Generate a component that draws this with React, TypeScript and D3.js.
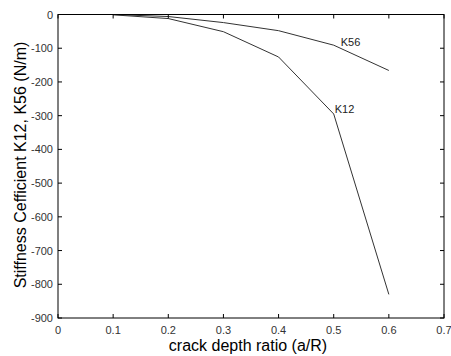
import React from "react";
import * as d3 from "d3";

const ratios = [0.1, 0.2, 0.3, 0.4, 0.5, 0.6];
const k12 = [-1, -12, -51, -126, -295, -830];
const k56 = [0, -6, -24, -48, -91, -166];
const xTicks = [0, 0.1, 0.2, 0.3, 0.4, 0.5, 0.6, 0.7];
const yTicks = [0, -100, -200, -300, -400, -500, -600, -700, -800, -900];

const W = 451;
const H = 356;
const left = 58;
const right = 444;
const top = 14.5;
const bottom = 318;

export default function App() {
  const x = d3.scaleLinear().domain([0, 0.7]).range([left, right]);
  const y = d3.scaleLinear().domain([-900, 0]).range([bottom, top]);
  const line = d3
    .line<number>()
    .x((_, i) => x(ratios[i]))
    .y((d) => y(d));
  const font = "'Liberation Sans', Arial, sans-serif";
  const tl = 4;
  return (
    <svg
      width={W}
      height={H}
      style={{ position: "absolute", left: 0, top: 0, background: "#fff" }}
      fontFamily={font}
    >
      <rect x={0} y={0} width={W} height={H} fill="#fff" />
      {/* data lines */}
      <path d={line(k56) || ""} fill="none" stroke="#333" strokeWidth={1} />
      <path d={line(k12) || ""} fill="none" stroke="#333" strokeWidth={1} />
      {/* axes box */}
      <rect
        x={left}
        y={top}
        width={right - left}
        height={bottom - top}
        fill="none"
        stroke="#000"
        strokeWidth={1}
      />
      {xTicks.map((t) => (
        <g key={"x" + t}>
          <line x1={x(t)} x2={x(t)} y1={bottom} y2={bottom - tl} stroke="#000" />
          <line x1={x(t)} x2={x(t)} y1={top} y2={top + tl} stroke="#000" />
          <text
            x={x(t)}
            y={bottom + 16}
            fontSize={11}
            textAnchor="middle"
            fill="#333"
          >
            {t}
          </text>
        </g>
      ))}
      {yTicks.map((t) => (
        <g key={"y" + t}>
          <line x1={left} x2={left + tl} y1={y(t)} y2={y(t)} stroke="#000" />
          <line x1={right} x2={right - tl} y1={y(t)} y2={y(t)} stroke="#000" />
          <text
            x={left - 5}
            y={y(t) + 4}
            fontSize={11}
            textAnchor="end"
            fill="#333"
          >
            {t}
          </text>
        </g>
      ))}
      {/* series labels */}
      <text x={x(0.5) + 7} y={y(k56[4]) + 1} fontSize={11} fill="#222">
        K56
      </text>
      <text x={x(0.5) + 1} y={y(k12[4]) - 1} fontSize={11} fill="#222">
        K12
      </text>
      {/* axis titles */}
      <text
        x={248}
        y={351}
        fontSize={16}
        textAnchor="middle"
        fill="#000"
      >
        crack depth ratio (a/R)
      </text>
      <text
        transform={`translate(26, 165) rotate(-90)`}
        fontSize={16}
        textAnchor="middle"
        fill="#000"
      >
        Stiffness Cefficient K12, K56 (N/m)
      </text>
    </svg>
  );
}
